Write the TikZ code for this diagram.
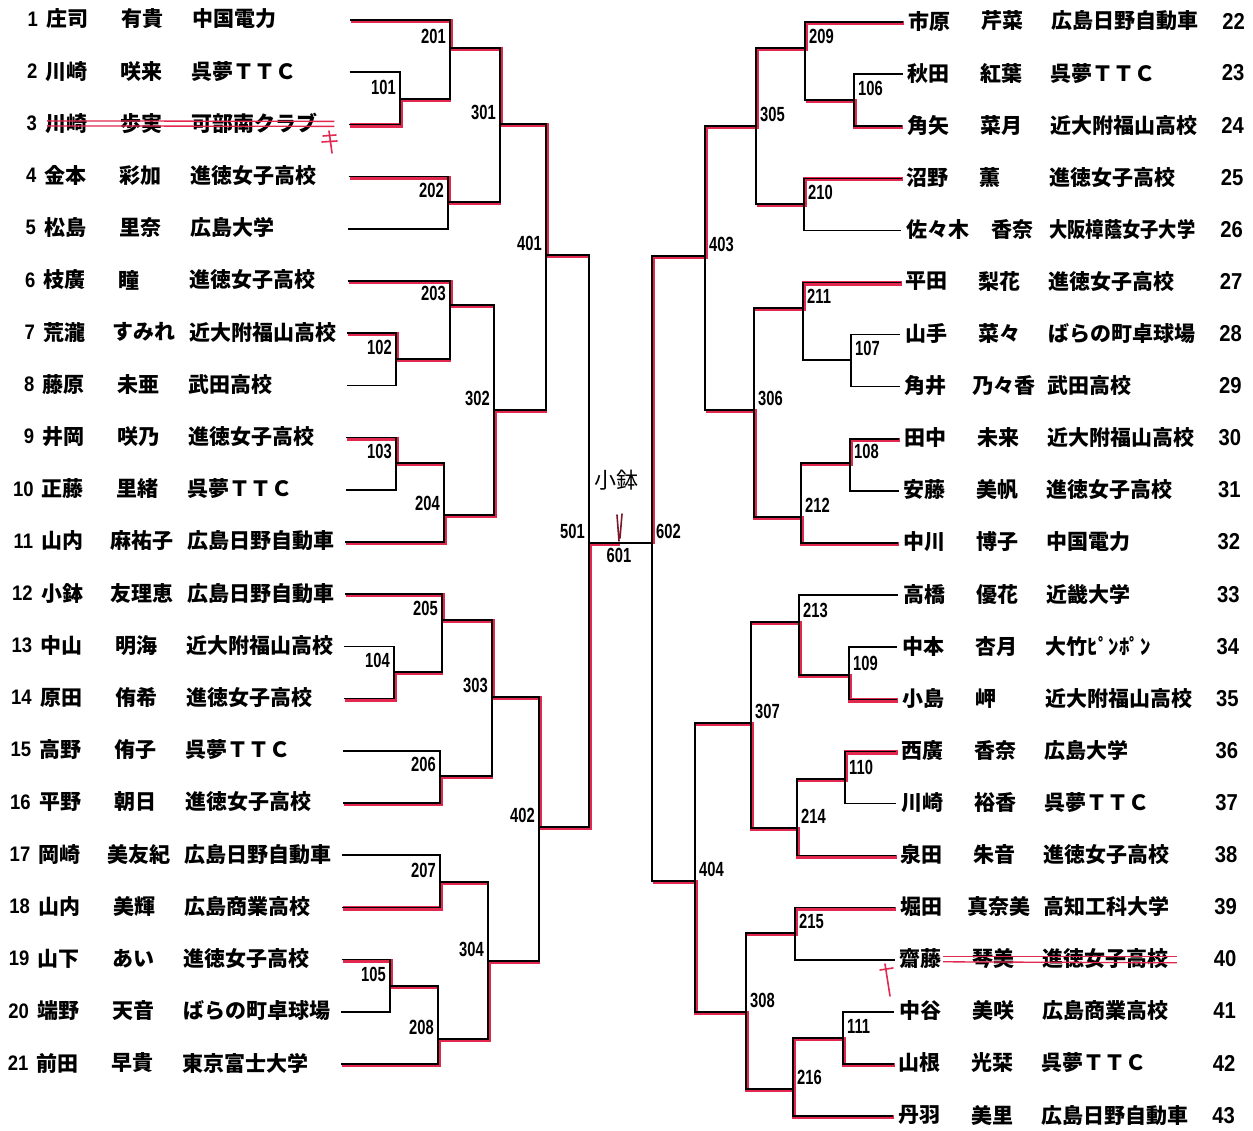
\documentclass[tikz,border=0pt]{standalone}
\usepackage{fontspec}
\newfontfamily\jpfont{Noto Sans CJK JP}
\newfontfamily\digitfont[FakeStretch=0.88]{Liberation Sans}
\newfontfamily\labelfont[FakeStretch=0.72]{Liberation Sans}
\newfontfamily\handfont{Noto Sans CJK JP}
\definecolor{winred}{RGB}{226,40,78}
\tikzset{
  jptxt/.style={font={\jpfont\bfseries\fontsize{21}{21}\selectfont}, inner sep=0pt},
  numtxt/.style={font={\digitfont\bfseries\fontsize{21}{21}\selectfont}, inner sep=0pt},
  matchlab/.style={font={\labelfont\bfseries\fontsize{20.5}{20.5}\selectfont}, inner sep=0pt},
  bracket/.style={line width=1.5pt, black},
  won/.style={line width=4.2pt, draw=winred, transform canvas={xshift=1.1pt, yshift=-1.1pt}},
  strike/.style={line width=1.3pt, draw=winred},
  handpen/.style={line width=1.6pt, draw=winred, line cap=round},
}
\begin{document}
\begin{tikzpicture}[x=1pt, y=-1pt]
  % PAGE
  \path[fill=white] (0,0) rectangle (1253,1131);

  % PLAYERS, LEFT HALF
  \foreach \i/\sur/\giv/\gx/\sch in {
      1/庄司/有貴/121/中国電力, 2/川崎/咲来/121/呉夢ＴＴＣ, 3/川崎/歩実/121/可部南クラブ,
      4/金本/彩加/121/進徳女子高校, 5/松島/里奈/121/広島大学, 6/枝廣/瞳/121/進徳女子高校,
      7/荒瀧/すみれ/115/近大附福山高校, 8/藤原/未亜/121/武田高校, 9/井岡/咲乃/121/進徳女子高校,
      10/正藤/里緒/121/呉夢ＴＴＣ, 11/山内/麻祐子/115/広島日野自動車, 12/小鉢/友理恵/115/広島日野自動車,
      13/中山/明海/121/近大附福山高校, 14/原田/侑希/121/進徳女子高校, 15/高野/侑子/121/呉夢ＴＴＣ,
      16/平野/朝日/121/進徳女子高校, 17/岡崎/美友紀/115/広島日野自動車, 18/山内/美輝/121/広島商業高校,
      19/山下/あい/121/進徳女子高校, 20/端野/天音/121/ばらの町卓球場, 21/前田/早貴/121/東京富士大学}{
    \pgfmathsetmacro\yy{20+(\i-1)*52.2}
    \pgfmathsetmacro\sk{-0.009*(\yy-20)}
    \node[numtxt, anchor=east] (no\i) at (38+\sk,\yy-1) {\i};
    \node[jptxt, anchor=west] (sur\i) at (46+\sk,\yy-1) {\sur};
    \node[jptxt, anchor=west] (giv\i) at (\gx+\sk,\yy-1) {\giv};
    \node[jptxt, anchor=west] (sch\i) at (192+\sk,\yy-1) {\sch};
    \coordinate (e\i) at (350+\sk,\yy);
  }

  % PLAYERS, RIGHT HALF
  \foreach \i/\sur/\giv/\gx/\sch in {
      22/市原/芹菜/981/広島日野自動車, 23/秋田/紅葉/981/呉夢ＴＴＣ, 24/角矢/菜月/981/近大附福山高校,
      25/沼野/薫/981/進徳女子高校, 26/佐々木/香奈/993/{\scalebox{0.87}[1]{大阪樟蔭女子大学}},
      27/平田/梨花/981/進徳女子高校, 28/山手/菜々/981/ばらの町卓球場, 29/角井/乃々香/976/武田高校,
      30/田中/未来/981/近大附福山高校, 31/安藤/美帆/981/進徳女子高校, 32/中川/博子/981/中国電力,
      33/高橋/優花/981/近畿大学, 34/中本/杏月/981/大竹ﾋﾟﾝﾎﾟﾝ, 35/小島/岬/981/近大附福山高校,
      36/西廣/香奈/981/広島大学, 37/川崎/裕香/981/呉夢ＴＴＣ, 38/泉田/朱音/981/進徳女子高校,
      39/堀田/真奈美/975/高知工科大学, 40/齋藤/琴美/981/進徳女子高校, 41/中谷/美咲/981/広島商業高校,
      42/山根/光栞/981/呉夢ＴＴＣ, 43/丹羽/美里/981/広島日野自動車}{
    \pgfmathsetmacro\yy{22+(\i-22)*52.1}
    \pgfmathsetmacro\sk{-0.009*(\yy-22)}
    \node[jptxt, anchor=west] (sur\i) at (908+\sk,\yy-1) {\sur};
    \node[jptxt, anchor=west] (giv\i) at (\gx+\sk,\yy-1) {\giv};
    \node[jptxt, anchor=west] (sch\i) at (1051+\sk,\yy-1) {\sch};
    \node[numtxt, font={\digitfont\bfseries\fontsize{23}{23}\selectfont}, anchor=east] (no\i) at (1245+\sk,\yy-1) {\i};
    \coordinate (e\i) at (903+\sk,\yy);
  }

  % MATCH POINTS (vertical line x, result line y)
  \coordinate (m101) at (400,99);   \coordinate (m102) at (396,359);
  \coordinate (m103) at (396,463);  \coordinate (m104) at (394,672);
  \coordinate (m105) at (390,986);
  \coordinate (m201) at (450,48);   \coordinate (m202) at (448,202);
  \coordinate (m203) at (450,305);  \coordinate (m204) at (444,515);
  \coordinate (m205) at (442,620);  \coordinate (m206) at (440,776);
  \coordinate (m207) at (440,882);  \coordinate (m208) at (438,1039);
  \coordinate (m301) at (500,124);  \coordinate (m302) at (494,410);
  \coordinate (m303) at (492,697);  \coordinate (m304) at (488,961);
  \coordinate (m401) at (546,255);  \coordinate (m402) at (539,827);
  \coordinate (m501) at (589,543);
  \coordinate (m106) at (854,100);  \coordinate (m107) at (851,360);
  \coordinate (m108) at (850,463);  \coordinate (m109) at (849,675);
  \coordinate (m110) at (845,779);  \coordinate (m111) at (843,1038);
  \coordinate (m209) at (805,48);   \coordinate (m210) at (804,204);
  \coordinate (m211) at (803,308);  \coordinate (m212) at (801,517);
  \coordinate (m213) at (799,622);  \coordinate (m214) at (797,828);
  \coordinate (m215) at (795,933);  \coordinate (m216) at (793,1089);
  \coordinate (m305) at (756,126);  \coordinate (m306) at (754,410);
  \coordinate (m307) at (751,723);  \coordinate (m308) at (746,1012);
  \coordinate (m403) at (705,256);  \coordinate (m404) at (695,881);
  \coordinate (m602) at (652,543);
  \coordinate (t601) at (619,543);

  % WINNER PATHS (RED PEN)
  \draw[won] (e1) -- (e1 -| m201) -- (m201) -- (m201 -| m301) -- (m301) -- (m301 -| m401) -- (m401) -- (m401 -| m501);
  \draw[won] (e3) -- (e3 -| m101) -- (m101) -- (m101 -| m201);
  \draw[won] (e4) -- (e4 -| m202) -- (m202) -- (m202 -| m301);
  \draw[won] (e6) -- (e6 -| m203) -- (m203) -- (m203 -| m302);
  \draw[won] (e7) -- (e7 -| m102) -- (m102) -- (m102 -| m203);
  \draw[won] (e9) -- (e9 -| m103) -- (m103) -- (m103 -| m204);
  \draw[won] (e11) -- (e11 -| m204) -- (m204) -- (m204 -| m302) -- (m302) -- (m302 -| m401);
  \draw[won] (e12) -- (e12 -| m205) -- (m205) -- (m205 -| m303) -- (m303) -- (m303 -| m402) -- (m402) -- (m402 -| m501) -- (m501) -- (t601);
  \draw[won] (e14) -- (e14 -| m104) -- (m104) -- (m104 -| m205);
  \draw[won] (e16) -- (e16 -| m206) -- (m206) -- (m206 -| m303);
  \draw[won] (e18) -- (e18 -| m207) -- (m207) -- (m207 -| m304);
  \draw[won] (e19) -- (e19 -| m105) -- (m105) -- (m105 -| m208);
  \draw[won] (e21) -- (e21 -| m208) -- (m208) -- (m208 -| m304) -- (m304) -- (m304 -| m402);
  \draw[won] (e22) -- (e22 -| m209) -- (m209) -- (m209 -| m305) -- (m305) -- (m305 -| m403) -- (m403) -- (m403 -| m602) -- (m602);
  \draw[won] (e24) -- (e24 -| m106) -- (m106) -- (m106 -| m209);
  \draw[won] (e25) -- (e25 -| m210) -- (m210) -- (m210 -| m305);
  \draw[won] (e27) -- (e27 -| m211) -- (m211) -- (m211 -| m306);
  \draw[won] (e30) -- (e30 -| m108) -- (m108) -- (m108 -| m212);
  \draw[won] (e32) -- (e32 -| m212) -- (m212) -- (m212 -| m306) -- (m306) -- (m306 -| m403);
  \draw[won] (e35) -- (e35 -| m109) -- (m109) -- (m109 -| m213) -- (m213) -- (m213 -| m307);
  \draw[won] (e36) -- (e36 -| m110) -- (m110) -- (m110 -| m214);
  \draw[won] (e38) -- (e38 -| m214) -- (m214) -- (m214 -| m307) -- (m307) -- (m307 -| m404);
  \draw[won] (e39) -- (e39 -| m215) -- (m215) -- (m215 -| m308);
  \draw[won] (e42) -- (e42 -| m111) -- (m111) -- (m111 -| m216) -- (m216) -- (m216 -| m308) -- (m308) -- (m308 -| m404) -- (m404) -- (m404 -| m602);
  \draw[won] (e43) -- (e43 -| m216) -- (m216);

  % BRACKET LINES
  \foreach \m/\a/\b in {101/e2/e3, 102/e7/e8, 103/e9/e10, 104/e13/e14, 105/e19/e20,
      201/e1/m101, 202/e4/e5, 203/e6/m102, 204/m103/e11, 205/e12/m104, 206/e15/e16,
      207/e17/e18, 208/m105/e21, 301/m201/m202, 302/m203/m204, 303/m205/m206,
      304/m207/m208, 401/m301/m302, 402/m303/m304, 501/m401/m402,
      106/e23/e24, 107/e28/e29, 108/e30/e31, 109/e34/e35, 110/e36/e37, 111/e41/e42,
      209/e22/m106, 210/e25/e26, 211/e27/m107, 212/m108/e32, 213/e33/m109, 214/m110/e38,
      215/e39/e40, 216/m111/e43, 305/m209/m210, 306/m211/m212, 307/m213/m214,
      308/m215/m216, 403/m305/m306, 404/m307/m308, 602/m403/m404}{
    \draw[bracket] (\a) -- (\a -| m\m) -- (\b -| m\m) -- (\b);
  }
  \draw[bracket] (m501) -- (m602);

  % MATCH NUMBERS
  \foreach \m in {101,102,103,104,105,201,202,203,204,205,206,207,208,301,302,303,304,401,402,501}
    \node[matchlab, anchor=south east, xshift=-4pt, yshift=4pt] (l\m) at (m\m) {\m};
  \foreach \m in {106,107,108,109,110,111,209,210,211,212,213,214,215,216,305,306,307,308,403,404,602}
    \node[matchlab, anchor=south west, xshift=4pt, yshift=4pt] (l\m) at (m\m) {\m};
  \node[matchlab, anchor=north, yshift=-5pt] (l601) at (t601) {601};

  % FINAL, HANDWRITTEN
  \node[font={\handfont\fontsize{22}{22}\selectfont}, inner sep=0pt] (champ) at (616,480) {小鉢};
  \draw[handpen, draw=winred!55!black] (617,515) -- (619,541) (622,514) -- (620,538);

  % WITHDRAWALS
  \draw[strike] ([xshift=2pt, yshift=2.5pt]sur3.west) -- ([xshift=17pt, yshift=2pt]sch3.east);
  \draw[strike] ([xshift=2pt, yshift=-2.5pt]sur3.west) -- ([xshift=17pt, yshift=-3pt]sch3.east);
  \draw[handpen] (323,136) -- (336,135) (322,142) -- (337,141) (329,131) -- (332,153);
  \draw[strike] ([xshift=1pt, yshift=2pt]sur40.east) -- ([xshift=8pt, yshift=2pt]sch40.east);
  \draw[strike] ([xshift=1pt, yshift=-3pt]sur40.east) -- ([xshift=8pt, yshift=-4pt]sch40.east);
  \draw[handpen] (885,964) -- (890,996) (880,970) -- (893,968);
\end{tikzpicture}
\end{document}
